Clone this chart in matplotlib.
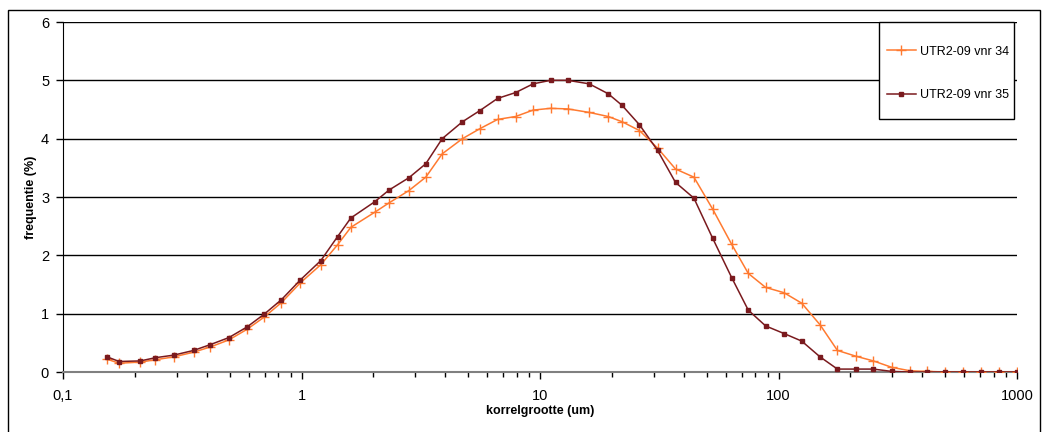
import matplotlib
matplotlib.use('Agg')
import matplotlib.pyplot as plt
from matplotlib.patches import Rectangle
from matplotlib.ticker import FixedLocator, FixedFormatter, LogLocator, NullFormatter

plt.rcParams['font.family'] = ['Liberation Sans', 'DejaVu Sans']

# korrelgrootte (um) of the measured classes
size_um = [0.153, 0.172, 0.211, 0.244, 0.292, 0.353, 0.415, 0.496, 0.590, 0.697,
           0.824, 0.990, 1.205, 1.416, 1.610, 2.03, 2.33, 2.82, 3.32, 3.89,
           4.73, 5.59, 6.64, 7.90, 9.36, 11.07, 13.09, 16.08, 19.32, 22.1,
           26.1, 31.1, 37.0, 44.2, 53.0, 63.6, 74.7, 88.3, 105.4, 125.1,
           149.3, 176.6, 211.3, 249.9, 298.5, 357.1, 421, 500, 594, 706,
           840, 1000]

vnr34 = [0.22, 0.15, 0.17, 0.21, 0.26, 0.34, 0.43, 0.55, 0.73, 0.94,
         1.19, 1.53, 1.84, 2.18, 2.48, 2.74, 2.90, 3.11, 3.34, 3.74,
         4.00, 4.17, 4.33, 4.38, 4.49, 4.52, 4.51, 4.45, 4.38, 4.29,
         4.14, 3.84, 3.48, 3.34, 2.79, 2.19, 1.69, 1.45, 1.36, 1.18,
         0.81, 0.37, 0.27, 0.19, 0.08, 0.02, 0.01, 0.0, 0.0, 0.0,
         0.0, 0.0]

vnr35 = [0.26, 0.18, 0.19, 0.245, 0.29, 0.37, 0.47, 0.59, 0.77, 0.99,
         1.24, 1.58, 1.91, 2.32, 2.64, 2.92, 3.12, 3.33, 3.57, 4.00,
         4.29, 4.48, 4.69, 4.79, 4.94, 5.00, 5.00, 4.94, 4.77, 4.57,
         4.24, 3.80, 3.25, 2.98, 2.29, 1.62, 1.06, 0.79, 0.66, 0.53,
         0.26, 0.05, 0.05, 0.05, 0.01, 0.0, 0.0, 0.0, 0.0, 0.0,
         0.0, 0.0]

xticks = [0.1, 1, 10, 100, 1000]
xticklabels = ['0,1', '1', '10', '100', '1000']

W, H = 1046, 432
fig = plt.figure(figsize=(W/100, H/100), dpi=100)
ax = fig.add_axes([63/W, 1-372/H, (1017-63)/W, 350/H])

# chart area border
fig.patches.append(Rectangle((8/W, -0.01), 1032/W, 1-10/H+0.01,
                             transform=fig.transFigure, fill=False,
                             edgecolor='black', linewidth=1))

for yv in range(1, 7):
    ax.axhline(yv, color='black', linewidth=1, zorder=1)

ax.plot(size_um, vnr34, color='#FF7A30', linewidth=1.1, marker='+',
        markersize=7, markeredgewidth=1, label='UTR2-09 vnr 34', zorder=3)
ax.plot(size_um, vnr35, color='#7A1A1E', linewidth=1.1, marker='s',
        markersize=2.2, label='UTR2-09 vnr 35', zorder=3)

ax.set_xscale('log')
ax.set_xlim(0.1, 1000)
ax.set_ylim(0, 6)
ax.xaxis.set_major_locator(FixedLocator(xticks))
ax.xaxis.set_major_formatter(FixedFormatter(xticklabels))
ax.xaxis.set_minor_locator(LogLocator(base=10, subs=range(2, 10)))
ax.xaxis.set_minor_formatter(NullFormatter())
ax.set_yticks(range(0, 7))

ax.tick_params(axis='both', which='major', direction='out', length=5,
               width=1, labelsize=10.5, colors='black')
ax.tick_params(axis='x', which='minor', direction='out', length=3.5, width=1)
ax.tick_params(axis='x', pad=7)
ax.tick_params(axis='y', pad=5)

for s in ['top', 'right']:
    ax.spines[s].set_visible(False)
ax.spines['left'].set_color('black')
ax.spines['bottom'].set_color('#808080')
ax.spines['bottom'].set_linewidth(1.5)

ax.set_xlabel('korrelgrootte (um)', fontsize=9, fontweight='bold', labelpad=2)
ax.set_ylabel('frequentie (%)', fontsize=9, fontweight='bold')
ax.yaxis.set_label_coords(-0.027, 0.5)

# legend box drawn separately to match the padding of the original
box = Rectangle((879/W, 1-119/H), 135/W, 97/H, transform=fig.transFigure,
                facecolor='white', edgecolor='black', linewidth=1,
                zorder=4, clip_on=False)
ax.add_patch(box)
leg = ax.legend(loc='center left', bbox_to_anchor=(887/W, 1-73.5/H),
                bbox_transform=fig.transFigure, fontsize=9, frameon=False,
                labelspacing=2.55, borderpad=0, handlelength=2.3,
                handletextpad=0.3, borderaxespad=0)
leg.set_zorder(5)

fig.savefig('out.png', dpi=100)
